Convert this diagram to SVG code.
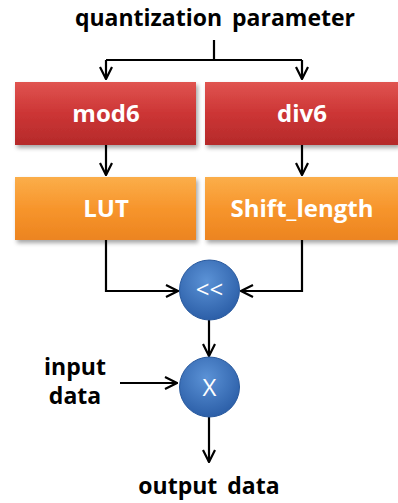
<svg xmlns="http://www.w3.org/2000/svg" width="398" height="503" viewBox="0 0 398 503">
<defs>
<linearGradient id="red" x1="0" y1="0" x2="0" y2="1"><stop offset="0" stop-color="#e05450"/><stop offset="0.5" stop-color="#cc3535"/><stop offset="1" stop-color="#b52a2a"/></linearGradient>
<linearGradient id="org" x1="0" y1="0" x2="0" y2="1"><stop offset="0" stop-color="#fbae4a"/><stop offset="0.5" stop-color="#f7952c"/><stop offset="1" stop-color="#ec8420"/></linearGradient>
<radialGradient id="blu" cx="0.45" cy="0.35" r="0.65"><stop offset="0" stop-color="#5b92d6"/><stop offset="1" stop-color="#2c5fa8"/></radialGradient>
<filter id="sh" x="-10%" y="-10%" width="125%" height="135%"><feDropShadow dx="2" dy="3" stdDeviation="2" flood-color="#000" flood-opacity="0.35"/></filter>
<marker id="ah" viewBox="0 0 14 14" refX="13" refY="7" markerWidth="14" markerHeight="14" markerUnits="userSpaceOnUse" orient="auto"><path d="M1,1 L13,7 L1,13" fill="none" stroke="#000" stroke-width="2.2"/></marker>
</defs>
<style>
.lbl{font-family:"Open Sans","Noto Sans",sans-serif;font-weight:bold;font-size:23px;fill:#000;word-spacing:4px}
.bt{font-family:"Open Sans","Noto Sans",sans-serif;font-weight:bold;font-size:24px;fill:#fff;text-anchor:middle}
.ct{font-family:"Open Sans","Noto Sans",sans-serif;font-size:24px;fill:#fff;text-anchor:middle}
.cn{fill:none;stroke:#000;stroke-width:2.2}
</style>
<g id="title"><text class="lbl" x="215" y="26" text-anchor="middle">quantization parameter</text></g>
<g id="connectors">
<path class="cn" d="M214,40 V60 M106,60 H302"/>
<path class="cn" d="M106,60 V79" marker-end="url(#ah)"/>
<path class="cn" d="M302,60 V79" marker-end="url(#ah)"/>
<path class="cn" d="M106,145 V175" marker-end="url(#ah)"/>
<path class="cn" d="M302,145 V175" marker-end="url(#ah)"/>
<path class="cn" d="M106,240 V291 H178" marker-end="url(#ah)"/>
<path class="cn" d="M302,240 V291 H241" marker-end="url(#ah)"/>
<path class="cn" d="M209,320 V356" marker-end="url(#ah)"/>
<path class="cn" d="M120,383 H177" marker-end="url(#ah)"/>
<path class="cn" d="M209,417 V462" marker-end="url(#ah)"/>
</g>
<g id="mod6"><rect x="15" y="82" width="181" height="63" fill="url(#red)" filter="url(#sh)"/><text class="bt" x="106" y="122">mod6</text></g>
<g id="div6"><rect x="205" y="82" width="193" height="63" fill="url(#red)" filter="url(#sh)"/><text class="bt" x="302" y="122">div6</text></g>
<g id="lut"><rect x="15" y="177" width="181" height="63" fill="url(#org)" filter="url(#sh)"/><text class="bt" x="106" y="217">LUT</text></g>
<g id="shift"><rect x="205" y="177" width="193" height="63" fill="url(#org)" filter="url(#sh)"/><text class="bt" x="302" y="217">Shift_length</text></g>
<g id="shl"><circle cx="209.5" cy="290" r="30" fill="url(#blu)" stroke="#2a5a9e" stroke-width="1"/><text class="ct" x="209.5" y="298">&lt;&lt;</text></g>
<g id="mul"><circle cx="209.5" cy="387" r="30" fill="url(#blu)" stroke="#2a5a9e" stroke-width="1"/><text class="ct" x="209.5" y="396">X</text></g>
<g id="input"><text class="lbl" x="75" y="375" text-anchor="middle">input</text><text class="lbl" x="75" y="404" text-anchor="middle">data</text></g>
<g id="output"><text class="lbl" x="209" y="494" text-anchor="middle">output data</text></g>
</svg>
